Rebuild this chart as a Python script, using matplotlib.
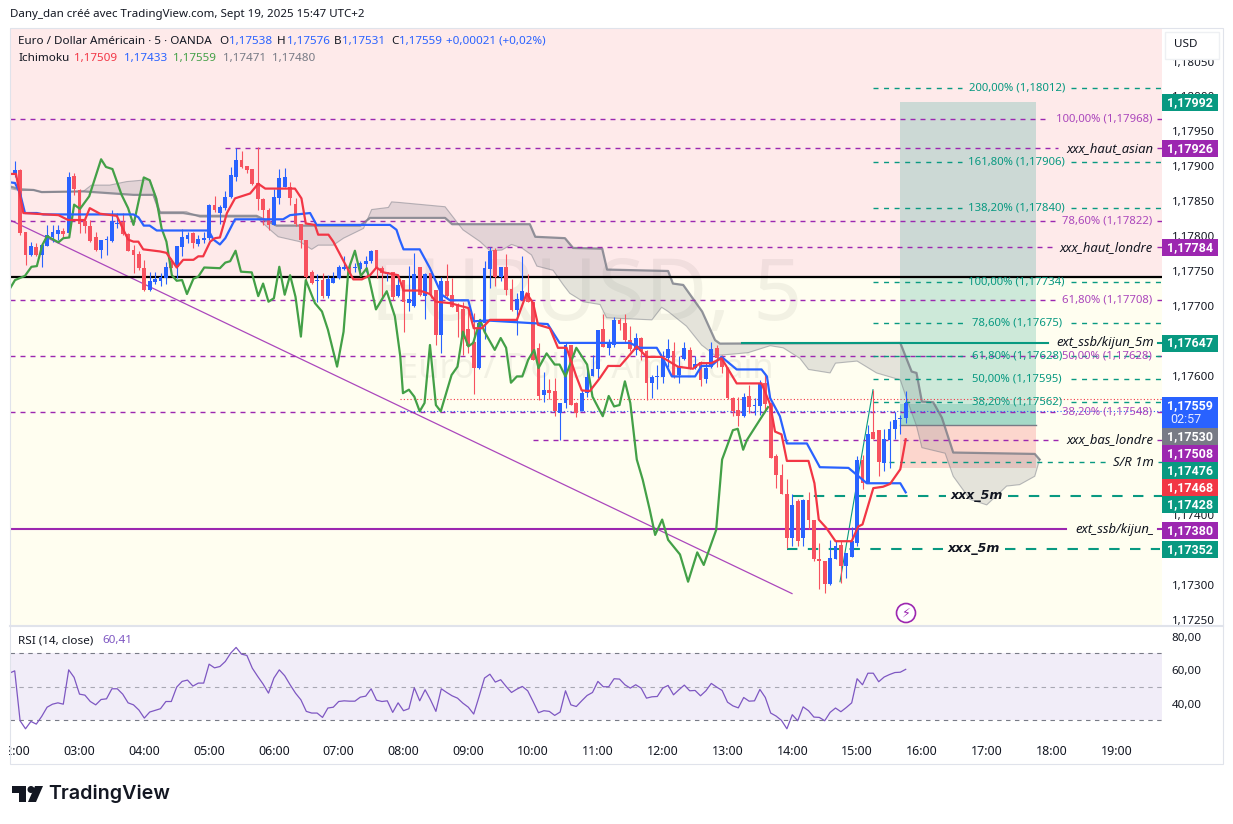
import numpy as np
import matplotlib
matplotlib.use('Agg')
import matplotlib.pyplot as plt
from matplotlib.patches import Rectangle, Circle, Polygon
from matplotlib.ticker import FuncFormatter

# 5 minute candles, in 1e-5 price units, bar 0 = 02:00
direction = ('BRRBRBBBBR' 'BRRRRRBBBB' 'RRRRRBBBBR' 'BBBRBBBRBB' 'BBRRRRRRBB' 'BRRRRRBRBB'
             'BBRBBBBRRB' 'RBRBBRBRRB' 'RRRRRRBBBR' 'BRRBBRRRBR' 'RBBRRBBBBR' 'BBRRRBRRBB'
             'BBRBBRBRBB' 'RRRRRBRBBR' 'RRRRBRBRRR' 'RBBRBBBRBR' 'RBBBBB')
body_top = [117893, 117892, 117804, 117784, 117783, 117785, 117800, 117804, 117807, 117805,
            117883, 117884, 117864, 117819, 117812, 117797, 117793, 117793, 117819, 117817,
            117818, 117801, 117778, 117773, 117752, 117734, 117736, 117740, 117753, 117762,
            117784, 117796, 117799, 117802, 117794, 117794, 117843, 117843, 117839, 117854,
            117886, 117907, 117907, 117898, 117894, 117874, 117851, 117836, 117854, 117881,
            117882, 117869, 117844, 117815, 117793, 117747, 117734, 117735, 117736, 117738,
            117753, 117753, 117753, 117753, 117759, 117763, 117777, 117778, 117752, 117746,
            117746, 117728, 117735, 117708, 117743, 117754, 117743, 117745, 117721, 117733,
            117733, 117713, 117700, 117693, 117665, 117647, 117673, 117752, 117777, 117778,
            117754, 117754, 117722, 117708, 117719, 117716, 117704, 117638, 117578, 117577,
            117576, 117559, 117642, 117642, 117559, 117573, 117596, 117608, 117664, 117665,
            117645, 117678, 117678, 117673, 117649, 117652, 117652, 117633, 117596, 117597,
            117623, 117636, 117634, 117611, 117638, 117635, 117615, 117617, 117609, 117636,
            117638, 117625, 117609, 117566, 117549, 117568, 117569, 117556, 117588, 117588,
            117559, 117483, 117456, 117429, 117413, 117418, 117420, 117420, 117392, 117336,
            117332, 117337, 117354, 117355, 117344, 117361, 117478, 117478, 117515, 117518,
            117520, 117507, 117521, 117534, 117537, 117559]
body_bot = [117886, 117802, 117771, 117771, 117771, 117771, 117784, 117797, 117801, 117801,
            117802, 117865, 117815, 117812, 117791, 117778, 117778, 117792, 117791, 117815,
            117801, 117777, 117771, 117752, 117721, 117721, 117732, 117734, 117738, 117752,
            117753, 117783, 117794, 117788, 117787, 117793, 117795, 117835, 117831, 117838,
            117854, 117883, 117897, 117893, 117873, 117851, 117835, 117814, 117814, 117852,
            117869, 117852, 117816, 117792, 117740, 117731, 117733, 117712, 117712, 117731,
            117738, 117751, 117751, 117752, 117751, 117758, 117762, 117752, 117745, 117744,
            117711, 117712, 117703, 117702, 117698, 117714, 117712, 117716, 117657, 117657,
            117712, 117697, 117689, 117650, 117640, 117609, 117609, 117673, 117751, 117740,
            117739, 117721, 117692, 117692, 117707, 117704, 117621, 117569, 117571, 117573,
            117547, 117545, 117559, 117556, 117545, 117547, 117573, 117597, 117608, 117639,
            117637, 117642, 117672, 117649, 117636, 117635, 117633, 117588, 117587, 117596,
            117596, 117623, 117598, 117599, 117622, 117609, 117609, 117592, 117593, 117610,
            117623, 117611, 117566, 117547, 117540, 117540, 117553, 117554, 117555, 117558,
            117480, 117456, 117429, 117366, 117366, 117362, 117366, 117391, 117335, 117332,
            117300, 117300, 117336, 117325, 117325, 117339, 117359, 117444, 117444, 117507,
            117474, 117473, 117506, 117522, 117536, 117538]
wick_hi = [117905, 117894, 117804, 117790, 117788, 117788, 117814, 117814, 117814, 117809,
           117890, 117889, 117866, 117825, 117821, 117804, 117793, 117798, 117835, 117831,
           117831, 117802, 117785, 117776, 117764, 117746, 117746, 117745, 117761, 117766,
           117784, 117808, 117804, 117804, 117799, 117804, 117844, 117856, 117843, 117862,
           117897, 117924, 117920, 117898, 117894, 117925, 117852, 117838, 117866, 117894,
           117895, 117876, 117852, 117816, 117793, 117750, 117744, 117745, 117742, 117746,
           117757, 117769, 117759, 117760, 117762, 117769, 117778, 117778, 117755, 117747,
           117747, 117738, 117735, 117755, 117774, 117754, 117745, 117745, 117721, 117739,
           117758, 117738, 117702, 117704, 117692, 117688, 117678, 117762, 117783, 117781,
           117754, 117773, 117736, 117716, 117769, 117743, 117704, 117645, 117604, 117594,
           117595, 117559, 117647, 117642, 117561, 117578, 117614, 117627, 117664, 117687,
           117650, 117682, 117681, 117687, 117669, 117659, 117654, 117635, 117599, 117614,
           117633, 117650, 117647, 117626, 117646, 117639, 117626, 117619, 117616, 117647,
           117642, 117628, 117611, 117567, 117568, 117573, 117585, 117566, 117592, 117602,
           117559, 117486, 117471, 117450, 117428, 117421, 117421, 117431, 117392, 117359,
           117332, 117363, 117361, 117361, 117344, 117382, 117483, 117485, 117528, 117578,
           117520, 117521, 117533, 117546, 117542, 117576]
wick_lo = [117883, 117800, 117757, 117769, 117769, 117753, 117784, 117790, 117793, 117795,
           117802, 117857, 117802, 117802, 117790, 117776, 117766, 117771, 117790, 117809,
           117800, 117776, 117745, 117750, 117720, 117720, 117730, 117727, 117730, 117752,
           117738, 117769, 117788, 117781, 117784, 117788, 117793, 117833, 117816, 117836,
           117852, 117877, 117895, 117888, 117871, 117835, 117814, 117807, 117814, 117844,
           117868, 117843, 117812, 117781, 117735, 117730, 117703, 117709, 117709, 117731,
           117737, 117749, 117745, 117747, 117747, 117747, 117760, 117738, 117709, 117733,
           117707, 117711, 117661, 117690, 117696, 117712, 117679, 117709, 117642, 117631,
           117709, 117696, 117654, 117628, 117631, 117572, 117608, 117650, 117723, 117726,
           117734, 117713, 117690, 117657, 117706, 117704, 117621, 117563, 117561, 117564,
           117541, 117506, 117552, 117556, 117539, 117547, 117568, 117597, 117595, 117639,
           117627, 117639, 117664, 117647, 117634, 117627, 117620, 117563, 117566, 117579,
           117587, 117611, 117595, 117588, 117620, 117608, 117608, 117583, 117588, 117609,
           117611, 117602, 117565, 117541, 117526, 117539, 117545, 117542, 117542, 117549,
           117480, 117437, 117428, 117351, 117354, 117354, 117354, 117378, 117332, 117292,
           117287, 117299, 117335, 117301, 117308, 117339, 117354, 117436, 117444, 117507,
           117454, 117461, 117466, 117507, 117514, 117531]

# Ichimoku lines, vertices as (bar, price)
tenkan_bar = [-0.87, 0.24, 1.6, 8.1, 9.9, 13, 13.9, 15.8, 18.9, 21, 22, 22.9, 23.8, 26.9, 28.1, 30, 31.2,
              33.1, 34, 34.9, 36.2, 37.1, 38, 39.3, 40.8, 43.6, 45.1, 46.4, 51.9, 53.1, 53.9, 55.6, 56.2,
              58.1, 59, 62.7, 64.3, 65.8, 67, 68.3, 71, 72, 75, 76.9, 78, 80.6, 84, 85, 86.5, 88, 93, 94.8,
              96, 96.9, 99.1, 100.6, 102.2, 104, 105, 106.5, 108.4, 109.9, 112.1, 113.9, 115.2, 117, 119.8,
              122.8, 125.6, 126.9, 129, 130.9, 133.7, 138.3, 139.9, 140.8, 142, 143, 147, 148.1, 148.9,
              150.3, 152, 155, 156.2, 157, 159, 160.8, 162.1, 164, 165]
tenkan_val = [117887, 117887, 117831, 117828, 117821, 117821, 117838, 117830, 117827, 117793, 117790, 117790,
              117779, 117776, 117774, 117753, 117764, 117764, 117769, 117769, 117790, 117795, 117796, 117831,
              117852, 117859, 117873, 117866, 117866, 117852, 117816, 117814, 117800, 117800, 117790, 117736,
              117736, 117742, 117753, 117746, 117742, 117720, 117720, 117715, 117704, 117702, 117695, 117666,
              117666, 117678, 117678, 117716, 117702, 117671, 117666, 117638, 117638, 117597, 117577, 117576,
              117595, 117612, 117612, 117628, 117640, 117625, 117625, 117611, 117608, 117616, 117616, 117623,
              117587, 117587, 117557, 117518, 117514, 117476, 117476, 117444, 117392, 117380, 117361, 117361,
              117382, 117385, 117437, 117439, 117443, 117464, 117507]
kijun_bar = [-0.87, 0.06, 1, 1.9, 4.1, 5.3, 22, 22.9, 23.9, 25, 26.3, 35.9, 36.8, 38, 39, 40.8, 49.7, 51, 54.7,
             55.9, 69.5, 70.7, 71.3, 72, 75, 76.9, 79.1, 80.6, 84, 85, 87.7, 98.7, 100.9, 113.9, 115.8, 118.9,
             119.8, 121.7, 126, 127.2, 129, 130.9, 133.7, 138.3, 139.3, 139.9, 141.7, 143, 146.7, 149.1, 154.4,
             157.8, 164, 165]
kijun_val = [117875, 117874, 117859, 117831, 117831, 117829, 117829, 117825, 117813, 117813, 117806, 117806,
             117793, 117786, 117795, 117822, 117822, 117828, 117831, 117814, 117814, 117807, 117793, 117779,
             117779, 117752, 117714, 117706, 117706, 117676, 117677, 117672, 117645, 117645, 117638, 117638,
             117626, 117597, 117597, 117612, 117612, 117625, 117607, 117607, 117597, 117566, 117540, 117501,
             117501, 117467, 117466, 117444, 117444, 117431]
chikou_bar = [-0.87, 0.06, 1.9, 3.1, 4.1, 5.1, 6, 8.1, 9, 10.1, 11, 12.1, 13.8, 16, 16.9, 18.1, 19.8, 21, 22,
              23.9, 25, 26.2, 27.2, 28.1, 29.1, 30, 31, 31.9, 33.1, 34, 35.1, 38, 39, 39.9, 40.9, 41.9, 43.9,
              45.1, 46, 47, 48, 49, 50, 51, 52, 53, 53.9, 55.6, 56.9, 58, 59.7, 60.9, 61.8, 63, 64.1, 65.2,
              66.9, 68.9, 70.4, 71.4, 71.9, 73, 74, 75, 75.9, 76.9, 78, 78.9, 80.9, 82, 83, 84, 84.9, 86.2,
              87, 88.9, 90, 91, 91.9, 93, 94, 95.1, 96.2, 97, 98.5, 100, 100.9, 102, 104, 106, 107, 108.9,
              110, 111, 112, 113, 114, 115.2, 116.3, 117.6, 118.6, 119.9, 121, 123.2, 124.7, 126.4, 127.6,
              129.9, 131, 133, 133.9, 134.9, 135.6, 138, 139.5]
chikou_val = [117723, 117735, 117741, 117754, 117755, 117785, 117798, 117789, 117795, 117796, 117843, 117837,
              117855, 117908, 117897, 117894, 117857, 117838, 117814, 117882, 117878, 117852, 117809, 117790,
              117742, 117734, 117735, 117715, 117737, 117740, 117753, 117752, 117760, 117762, 117777, 117747,
              117746, 117712, 117730, 117704, 117709, 117754, 117714, 117742, 117711, 117654, 117735, 117702,
              117690, 117664, 117611, 117661, 117750, 117777, 117741, 117752, 117693, 117719, 117683, 117626,
              117573, 117578, 117568, 117547, 117559, 117642, 117556, 117547, 117599, 117611, 117661, 117640,
              117645, 117678, 117661, 117635, 117652, 117638, 117588, 117597, 117597, 117621, 117635, 117609,
              117630, 117614, 117614, 117597, 117638, 117614, 117568, 117540, 117569, 117554, 117556, 117590,
              117559, 117478, 117449, 117406, 117370, 117392, 117363, 117342, 117303, 117345, 117327, 117377,
              117478, 117520, 117522, 117492, 117506, 117535, 117553]
span_a_bar = [-0.87, 1, 3.5, 5, 12.7, 14.2, 17.6, 20.7, 25, 26.3, 26.9, 31.8, 34.3, 44.8, 47.3, 48.8, 52.8, 55,
              56.2, 59, 60.9, 64.6, 66.1, 69.2, 69.8, 71.4, 79.7, 83, 86.2, 88, 90.2, 92, 93.9, 95.7, 96.7,
              99.7, 101.6, 102.8, 105.3, 108.4, 109.6, 118, 119.8, 121, 124.4, 127.2, 129.7, 133, 135.8, 139.9,
              142.3, 145.4, 147, 151, 152, 156, 159.6, 164, 165, 167, 168, 172.3, 173.8, 176.9, 180, 183.7,
              186.1, 188.9, 189.8]
span_a_val = [117866, 117863, 117864, 117861, 117862, 117871, 117871, 117876, 117879, 117852, 117833, 117833,
              117825, 117825, 117807, 117797, 117790, 117779, 117785, 117785, 117795, 117809, 117836, 117839,
              117847, 117846, 117840, 117807, 117790, 117777, 117778, 117786, 117781, 117771, 117755, 117749,
              117728, 117716, 117704, 117700, 117681, 117678, 117696, 117690, 117669, 117642, 117627, 117629,
              117631, 117641, 117638, 117623, 117607, 117602, 117616, 117619, 117602, 117592, 117569, 117526,
              117495, 117487, 117454, 117421, 117413, 117440, 117442, 117454, 117478]
span_b_bar = [-0.87, 1, 3.5, 5, 12.7, 22, 25.7, 26.9, 31.2, 34.3, 44.8, 48.5, 64, 65.8, 79.7, 81, 95.4, 96.4,
              101.9, 103.4, 108.8, 109.7, 121, 121.9, 123.8, 127.3, 129.7, 130.6, 164, 166.1, 167, 168, 170.1,
              171.7, 173.8, 188.9, 189.8]
span_b_val = [117869, 117865, 117864, 117861, 117862, 117857, 117857, 117831, 117831, 117827, 117827, 117813,
              117813, 117824, 117824, 117815, 117815, 117797, 117795, 117781, 117780, 117750, 117748, 117730,
              117728, 117690, 117649, 117644, 117645, 117604, 117602, 117561, 117560, 117538, 117488, 117486,
              117478]

# RSI per bar, first value is the bar before 02:00
rsi_val = [58.1, 59.5, 29.7, 24.9, 29.3, 27.7, 32.3, 37.8, 39.6, 40.4, 39.6, 60.1, 55.6, 45.6, 45, 41.2, 39.2, 42.4,
           42.8, 48.8, 48.8, 45.6, 40.4, 39.2, 36.1, 31.3, 34.9, 35.9, 36.9, 41.2, 41.2, 49.8, 53.2, 54, 50.4, 52.2,
           52.2, 63.5, 61.3, 62.1, 65.1, 70.1, 73.5, 69.5, 68.7, 61.1, 56.2, 51.6, 46.2, 55.2, 60.1, 56.6, 51.2,
           46.2, 42.2, 35.3, 34.3, 34.3, 31.7, 37.3, 37.8, 41.2, 41.6, 41.4, 41.4, 43.8, 44.4, 48.8, 42, 41.2, 41.6,
           34.7, 40.4, 35.7, 36.9, 49.4, 41.6, 48.2, 42.2, 35.3, 48.8, 46.6, 44.6, 43.2, 40.2, 37.8, 33.7, 44.2,
           55.2, 57.5, 52.8, 54.2, 50.2, 46.6, 48.6, 50.2, 47.6, 41.2, 34.5, 35.7, 35.3, 32.9, 34.9, 47.6, 39.2,
           38.2, 41.6, 44.8, 46.6, 53.2, 50, 50, 54.8, 54.6, 51.2, 49.2, 51.2, 49.2, 43.2, 44, 44.2, 49.2, 50.8,
           45.2, 48.2, 51, 47.6, 47.8, 44.6, 47.6, 52, 49.8, 47.8, 40.8, 38.6, 37.4, 43.6, 41.4, 41.6, 48.4, 43.6,
           34.3, 32.5, 29.9, 24.9, 33.3, 29.7, 38, 35.7, 31.9, 31.7, 29.7, 34.7, 37.3, 35.1, 37.6, 40.4, 54.8, 51.2,
           58.1, 58.1, 53, 55.8, 57.3, 58.5, 58.7, 60.41]

# drawn levels
fib_prices = [1.18012, 1.17906, 1.17840, 1.17734, 1.17675, 1.17628, 1.17595, 1.17562]
fib_labels = ['200,00% (1,18012)', '161,80% (1,17906)', '138,20% (1,17840)', '100,00% (1,17734)',
              '78,60% (1,17675)', '61,80% (1,17628)', '50,00% (1,17595)', '38,20% (1,17562)']
purple_prices = [1.17968, 1.17926, 1.17822, 1.17784, 1.17708, 1.17628, 1.17548, 1.17508]
purple_labels = ['100,00% (1,17968)', 'xxx_haut_asian', '78,60% (1,17822)', 'xxx_haut_londre',
                 '61,80% (1,17708)', '50,00% (1,17628)', '38,20% (1,17548)', 'xxx_bas_londre']
purple_starts = [10, 225, 10, 467, 10, 10, 10, 533]
purple_lefts = [1055, 1063, 1062, 1057, 1062, 1062, 1062, 1063]
tag_labels = ['1,17992', '1,17926', '1,17784', '1,17647', '1,17559', '1,17530', '1,17508', '1,17476', '1,17468',
              '1,17428', '1,17380', '1,17352']
tag_colors = ['#089981', '#9C27B0', '#9C27B0', '#089981', '#2962FF', '#787B86', '#9C27B0', '#089981', '#F23645',
              '#089981', '#9C27B0', '#089981']
tag_tops = [94, 140, 239, 334.5, 397, 428, 445, 462, 479, 496, 522, 541]
hours = list(range(2, 20))

FONT = 'Noto Sans'
TEAL = '#089981'
PURPLE = '#9C27B0'
PINK = '#FEEAEA'
CREAM = '#FFFEF0'
GREY = '#787B86'
READ_BIAS = 2


def px_bar(x):
    # pixel column of the picture to bar number
    return (x - 14.7) / 5.4


def price(values):
    return (np.asarray(values) + READ_BIAS) / 1e5


def level(ax, y, x0, x1, gap=None, **style):
    if gap is None:
        ax.plot([px_bar(x0), px_bar(x1)], [y, y], **style)
    else:
        ax.plot([px_bar(x0), px_bar(gap[0])], [y, y], **style)
        ax.plot([px_bar(gap[1]), px_bar(x1)], [y, y], **style)


def label_at(ax, x, y, s, **style):
    ax.text(px_bar(x), y, s, ha='right', va='center', family=FONT, **style)


plt.rcParams['font.family'] = FONT
fig = plt.figure(figsize=(12.33, 8.24), dpi=100, facecolor='white')
W, H = 1233.0, 824.0
ax = fig.add_axes([10 / W, 1 - 625 / H, 1152 / W, 597 / H])
ax_rsi = fig.add_axes([10 / W, 1 - 738 / H, 1152 / W, 111 / H])
for a in (ax, ax_rsi):
    a.set_xlim(px_bar(10), px_bar(1162))
    for s in a.spines.values():
        s.set_visible(False)
    a.yaxis.tick_right()
    a.tick_params(length=0, labelsize=8.3, labelcolor='#131722', pad=7)

# background zones
ax.set_facecolor(CREAM)
ax.set_ylim(1.17243, 1.18098)
ax.axhspan(1.17742, 1.18098, color=PINK, lw=0, zorder=0)
ax.axhline(1.17742, color='black', lw=1.6, zorder=2.2)

ax.text(0.5, 0.548, 'EURUSD, 5', transform=ax.transAxes, ha='center', va='center', fontsize=62,
        color='black', alpha=0.05, zorder=0.5)
ax.text(0.5, 0.429, 'Euro / Dollar Américain', transform=ax.transAxes, ha='center', va='center', fontsize=24.8,
        color='black', alpha=0.05, zorder=0.5)

# long position box
x_box = [px_bar(900), px_bar(1036)]
ax.fill_between(x_box, 1.17530, 1.17992, color=TEAL, alpha=0.2, lw=0, zorder=1)
ax.fill_between(x_box, 1.17530, 1.17559, color=TEAL, alpha=0.2, lw=0, zorder=1)
ax.fill_between(x_box, 1.17468, 1.17530, color='#F23645', alpha=0.2, lw=0, zorder=1)
ax.plot(x_box, [1.17530, 1.17530], color=GREY, lw=1, zorder=1.1)

# cloud
cloud_x = np.r_[span_a_bar, span_b_bar[::-1]]
cloud_y = np.r_[price(span_a_val), price(span_b_val)[::-1]]
ax.add_patch(Polygon(np.c_[cloud_x, cloud_y], closed=True, fc=GREY, ec='none', alpha=0.2, zorder=1.5))
ax.plot(span_a_bar, price(span_a_val), color=GREY, lw=0.8, alpha=0.5, zorder=1.6)
ax.plot(span_b_bar, price(span_b_val), color=GREY, lw=1.6, alpha=0.8, zorder=1.6)

# trend line and swing line
ax.plot([px_bar(10), px_bar(792)], [1.17823, 1.17288], color='#AB47BC', lw=0.9, zorder=2)
ax.plot([px_bar(840), px_bar(873)], [1.17305, 1.17580], color=TEAL, lw=0.8, zorder=2)

# purple levels
ITALIC = dict(fontsize=9.4, style='italic', color='#131722', zorder=5)
for y, s, x0, left in zip(purple_prices, purple_labels, purple_starts, purple_lefts):
    level(ax, y, x0, 1162, gap=(left - 5, 1157), color=PURPLE, lw=1, dashes=(3.6, 3.6), zorder=2)
    if s.startswith('xxx'):
        label_at(ax, 1153, y, s, **ITALIC)
    else:
        label_at(ax, 1152, y, s, fontsize=8.15, color='#AB47BC', zorder=5)

# fib levels
for y, s in zip(fib_prices, fib_labels):
    wide = s[:3] in ('200', '161', '138', '100')
    level(ax, y, 873, 1162, gap=(962 if wide else 966, 1071), color=TEAL, lw=1, dashes=(3.6, 4), zorder=2)
    label_at(ax, 1065 if wide else 1062, y, s, fontsize=8.15, color=TEAL, zorder=5)

# solid and heavy levels
BOLD = dict(ha='center', va='center', fontsize=9, style='italic', weight='bold', color='#131722', zorder=5,
            family='DejaVu Sans')
level(ax, 1.17647, 742, 1162, gap=(1048, 1158), color=TEAL, lw=1.5, zorder=2.3)
label_at(ax, 1154, 1.17647, 'ext_ssb/kijun_5m', **ITALIC)
level(ax, 1.17380, 10, 1162, gap=(1066, 1158), color=PURPLE, lw=1.5, zorder=2.3)
label_at(ax, 1154, 1.17380, 'ext_ssb/kijun_', **ITALIC)
level(ax, 1.17428, 793, 1162, gap=(946, 1008), color=TEAL, lw=1.5, dashes=(5, 5), zorder=2.3)
ax.text(px_bar(977), 1.17428, 'xxx_5m', **BOLD)
level(ax, 1.17352, 787, 1160, gap=(943, 1005), color=TEAL, lw=1.5, dashes=(5, 5), zorder=2.3)
ax.text(px_bar(974), 1.17352, 'xxx_5m', **BOLD)
level(ax, 1.17476, 889, 1162, gap=(1110, 1158), color=TEAL, lw=1, dashes=(3.6, 4), zorder=2)
label_at(ax, 1154, 1.17476, 'S/R 1m', **ITALIC)

# price lines
ax.plot([px_bar(400), px_bar(1162)], [1.17566, 1.17566], color='#F23645', lw=0.8, ls=(0, (1, 2)), zorder=2.1)
ax.plot([px_bar(400), px_bar(1162)], [1.17549, 1.17549], color='#2962FF', lw=0.8, ls=(0, (1, 2)), zorder=2.1)

# candles
bars = np.arange(len(body_top))
colors = ['#2962FF' if d == 'B' else '#F7525F' for d in direction]
ax.vlines(bars, price(wick_lo), price(wick_hi), colors=colors, lw=0.8, zorder=3)
ax.bar(bars, np.maximum(price(body_top) - price(body_bot), 0.00002), bottom=price(body_bot), width=0.68, color=colors,
       lw=0, zorder=3)

# ichimoku lines
ax.plot(chikou_bar, price(chikou_val), color='#43A047', lw=1.6, zorder=4, solid_joinstyle='round')
ax.plot(kijun_bar, price(kijun_val), color='#2962FF', lw=1.6, zorder=4.1)
ax.plot(tenkan_bar, price(tenkan_val), color='#F23645', lw=1.6, zorder=4.2)

# price axis
ax.set_yticks(np.arange(1.1725, 1.1806, 0.0005))
ax.yaxis.set_major_formatter(FuncFormatter(lambda v, _: f'{v:.5f}'.replace('.', ',')))
ax.set_xticks([])

# RSI panel
ax_rsi.set_facecolor('white')
ax_rsi.set_ylim(19.4, 85.7)
ax_rsi.axhspan(30, 70, color='#7E57C2', alpha=0.1, lw=0)
ax_rsi.axhline(70, color=GREY, lw=0.8, dashes=(4, 4))
ax_rsi.axhline(50, color=GREY, lw=0.8, dashes=(4, 4), alpha=0.6)
ax_rsi.axhline(30, color=GREY, lw=0.8, dashes=(4, 4))
ax_rsi.plot(np.arange(-1, len(rsi_val) - 1), rsi_val, color='#7E57C2', lw=0.9)
ax_rsi.set_yticks([40, 60, 80])
ax_rsi.yaxis.set_major_formatter(FuncFormatter(lambda v, _: f'{v:.2f}'.replace('.', ',')))
ax_rsi.set_xticks([(h - 2) * 12 for h in hours])
ax_rsi.set_xticklabels([f'{h:02d}:00' for h in hours])
ax_rsi.tick_params(axis='x', pad=5, labelsize=9)

# chrome in picture pixels: tags, header, logo
ov = fig.add_axes([0, 0, 1, 1], zorder=10)
ov.set_xlim(0, W)
ov.set_ylim(H, 0)
ov.axis('off')
ov.add_patch(Rectangle((0, 738), 9, 26, fc='white', ec='none'))
ov.add_patch(Rectangle((9.5, 28), 1213, 736, fc='none', ec='#E0E3EB', lw=0.8))
ov.plot([10, 1223], [626, 626], color='#E0E3EB', lw=1.5)
ov.add_patch(Rectangle((1165, 32), 54, 27, fc='white', ec='#EEF0F3', lw=1))
ov.text(1174, 44.5, 'USD', fontsize=8.4, va='center', color='#131722')

for s, c, top in zip(tag_labels, tag_colors, tag_tops):
    h = 31 if s == '1,17559' else 17
    ov.add_patch(Rectangle((1162, top), 56, h, fc=c, ec='none'))
    ov.text(1190, top + 8.5, s, ha='center', va='center', fontsize=9, weight='bold', color='white', family='Roboto')
ov.text(1170, 419, '02:57', va='center', fontsize=9, color='#E8ECFF', family='Roboto')

ov.text(10, 14, 'Dany_dan créé avec TradingView.com, Sept 19, 2025 15:47 UTC+2', fontsize=8.3, va='center',
        color='#131722')
row1 = [(18, 'Euro / Dollar Américain · 5 · OANDA', '#131722'), (219, 'O', '#131722'), (229, '1,17538', '#2962FF'),
        (277, 'H', '#131722'), (287, '1,17576', '#2962FF'), (334, 'B', '#131722'), (342, '1,17531', '#2962FF'),
        (391, 'C', '#131722'), (399, '1,17559', '#2962FF'), (446, '+0,00021 (+0,02%)', '#2962FF')]
row2 = [(18, 'Ichimoku', '#131722'), (74, '1,17509', '#F23645'), (124, '1,17433', '#2962FF'),
        (173, '1,17559', '#43A047'), (222.5, '1,17471', GREY), (272, '1,17480', GREY)]
for x, s, c in row1:
    ov.text(x, 41, s, fontsize=8.4, va='center', color=c)
for x, s, c in row2:
    ov.text(x, 58, s, fontsize=8.4, va='center', color=c)
ov.text(18, 641, 'RSI (14, close)', fontsize=8.4, va='center', color='#131722')
ov.text(102, 641, '60,41', fontsize=8.4, va='center', color='#7E57C2')

# alert icon
ov.add_patch(Circle((906, 613), 9.5, fc='white', ec=PURPLE, lw=1.2))
ov.text(906, 613, '\u26a1', ha='center', va='center', fontsize=9, color=PURPLE, family='DejaVu Sans')

# logo
ov.add_patch(Polygon([(11.5, 786), (26, 786), (26, 802), (18.5, 802), (18.5, 793), (11.5, 793)], fc='#131722', ec='none'))
ov.add_patch(Circle((31, 789.5), 3.5, fc='#131722', ec='none'))
ov.add_patch(Polygon([(35, 786), (43, 786), (36, 802), (28, 802)], fc='#131722', ec='none'))
ov.text(48, 794, 'TradingView', fontsize=14.2, va='center', weight='semibold', color='#131722', family='Inter')

fig.savefig('out.png', dpi=100)
